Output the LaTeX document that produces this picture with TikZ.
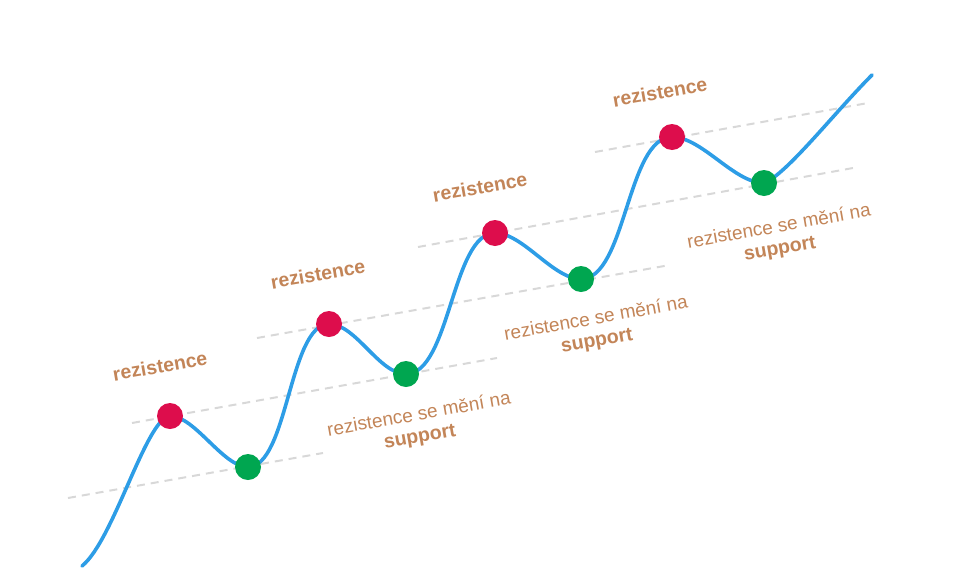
\documentclass[tikz,border=0pt]{standalone}
\usepackage{fontspec}
\setmainfont{Liberation Sans}
\definecolor{curveblue}{RGB}{45,157,230}
\definecolor{dotred}{RGB}{221,13,76}
\definecolor{dotgreen}{RGB}{0,166,80}
\definecolor{labelbrown}{RGB}{195,133,88}
\definecolor{guidegray}{RGB}{216,216,216}
\tikzset{
  guide/.style={draw=guidegray, line width=2pt, dash pattern=on 8pt off 6pt},
  price/.style={draw=curveblue, line width=3.6pt, line cap=round, line join=round},
  reddot/.style={circle, fill=dotred, minimum size=26pt, inner sep=0pt},
  greendot/.style={circle, fill=dotgreen, minimum size=26pt, inner sep=0pt},
  reslabel/.style={text=labelbrown, font=\fontsize{19.5}{22}\selectfont\bfseries, rotate=10, inner sep=0pt},
  swaplabel/.style={text=labelbrown, font=\fontsize{19}{22}\selectfont, rotate=10, inner sep=0pt, align=center}
}
\newcommand{\swaptext}{rezistence se mění na\\{\fontsize{19.5}{22}\selectfont\bfseries support}\hspace*{6pt}}
\begin{document}
\begin{tikzpicture}[x=1pt,y=-1pt]
\useasboundingbox (0,0) rectangle (958,584);
% key points
\coordinate (s) at (82,566);
\coordinate (p1) at (170,416);
\coordinate (q1) at (248,467);
\coordinate (p2) at (329,324);
\coordinate (q2) at (406,374);
\coordinate (p3) at (495,233);
\coordinate (q3) at (581,279);
\coordinate (p4) at (672,137);
\coordinate (q4) at (764,183);
\coordinate (e) at (872,75);
% guide line ends
\coordinate (l1a) at (68,498);  \coordinate (l1b) at (323,453);
\coordinate (l2a) at (132,423); \coordinate (l2b) at (497,358);
\coordinate (l3a) at (257,338); \coordinate (l3b) at (670,265);
\coordinate (l4a) at (418,247); \coordinate (l4b) at (853,168);
\coordinate (l5a) at (595,152); \coordinate (l5b) at (868,103);
\draw[guide] (l1a) -- (l1b);
\draw[guide] (l2a) -- (l2b);
\draw[guide] (l3a) -- (l3b);
\draw[guide] (l4a) -- (l4b);
\draw[guide] (l5a) -- (l5b);
% price curve
\draw[price] (s) .. controls +(32,-26) and +(-24,2) .. (p1)
  .. controls +(25,0) and +(-25,0) .. (q1)
  .. controls +(40,0) and +(-40,0) .. (p2)
  .. controls +(27,0) and +(-27,0) .. (q2)
  .. controls +(44,0) and +(-43,0) .. (p3)
  .. controls +(28,0) and +(-28,0) .. (q3)
  .. controls +(45,0) and +(-45,0) .. (p4)
  .. controls +(30,0) and +(-30,0) .. (q4)
  .. controls +(22,-8) and +(-38,38) .. (e);
% dots
\node[reddot] (r1) at (p1) {};
\node[greendot] (g1) at (q1) {};
\node[reddot] (r2) at (p2) {};
\node[greendot] (g2) at (q2) {};
\node[reddot] (r3) at (p3) {};
\node[greendot] (g3) at (q3) {};
\node[reddot] (r4) at (p4) {};
\node[greendot] (g4) at (q4) {};
% labels
\node[reslabel] (t1) at (160,366) {rezistence};
\node[reslabel] (t2) at (318,274) {rezistence};
\node[reslabel] (t3) at (480,187) {rezistence};
\node[reslabel] (t4) at (660,92) {rezistence};
\node[swaplabel] (c1) at (421,426) {\swaptext};
\node[swaplabel] (c2) at (598,330) {\swaptext};
\node[swaplabel] (c3) at (781,238) {\swaptext};
\end{tikzpicture}
\end{document}
